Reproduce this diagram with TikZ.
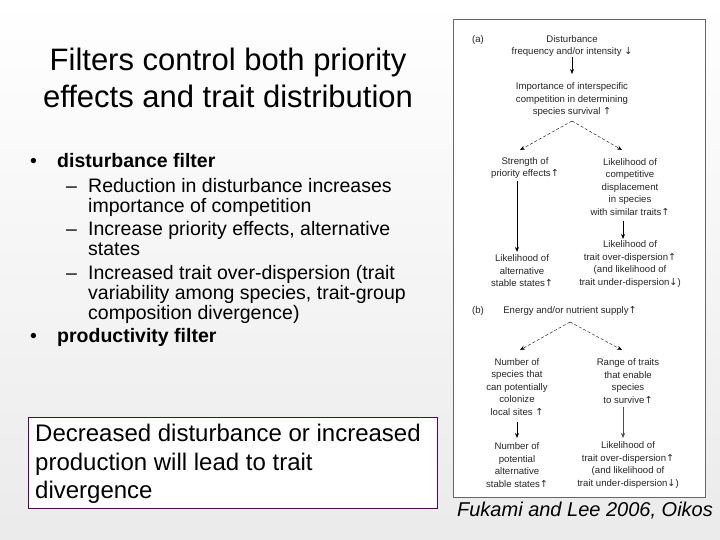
\documentclass[tikz,border=0pt]{standalone}
\usetikzlibrary{arrows.meta}
\usepackage{fontspec}
\setmainfont{Liberation Sans}
\newfontfamily\dv{DejaVu Sans}
\newcommand{\up}{{\dv\char"2191}}
\newcommand{\dn}{{\dv\char"2193}}
\begin{document}
\begin{tikzpicture}[x=1pt,y=-1pt,
  sm/.style={font=\fontsize{9.6}{12.5}\selectfont,align=center,inner sep=1pt,text=black!85},
  arr/.style={-{Stealth[length=5pt,width=4pt]},thick},
  darr/.style={-{Stealth[length=5pt,width=4pt]},densely dashed},
  bl/.style={font=\fontsize{19.5}{20}\selectfont,anchor=base west,inner sep=0pt}]
\shade[top color=white,bottom color=blue!3!black!8] (0,0) rectangle (720,540);
\useasboundingbox (0,0) rectangle (720,540);
% title
\node[font=\fontsize{31}{37}\selectfont,align=center] (title) at (228,78) {Filters control both priority\\effects and trait distribution};
% bullets
\node[bl] (b1) at (30,168) {•};
\node[bl] (t1) at (57,168) {\textbf{disturbance filter}};
\node[bl] (d1) at (66,193) {–};
\node[bl] (s1a) at (88,193) {Reduction in disturbance increases};
\node[bl] (s1b) at (88,212) {importance of competition};
\node[bl] (d2) at (66,236) {–};
\node[bl] (s2a) at (88,236) {Increase priority effects, alternative};
\node[bl] (s2b) at (88,255) {states};
\node[bl] (d3) at (66,279) {–};
\node[bl] (s3a) at (88,279) {Increased trait over-dispersion (trait};
\node[bl] (s3b) at (88,299) {variability among species, trait-group};
\node[bl] (s3c) at (88,319) {composition divergence)};
\node[bl] (b2) at (30,342) {•};
\node[bl] (t2) at (57,342) {\textbf{productivity filter}};
% box
\draw[draw=violet!70!black,fill=white] (28,417) rectangle (437,508);
\node[font=\fontsize{24}{28.5}\selectfont,align=left,anchor=north west,inner sep=0pt] (box) at (35,424) {Decreased disturbance or increased\\production will lead to trait\\divergence};
% citation
\node[font=\fontsize{20}{20}\selectfont\itshape] (cite) at (585,511) {Fukami and Lee 2006, Oikos};
% panel
\draw[draw=black!60,fill=white,line width=1pt] (453,20) rectangle (705,497);
\node[sm] (la) at (478,40) {(a)};
\node[sm] (a1) at (572,46) {Disturbance\\frequency and/or intensity \dn};
\node[sm] (a2) at (572,100) {Importance of interspecific\\competition in determining\\species survival \up};
\node[sm] (a3) at (525,168) {Strength of\\priority effects\up};
\node[sm] (a4) at (630,187) {Likelihood of\\competitive\\displacement\\in species\\with similar traits\up};
\node[sm] (a5) at (522,271) {Likelihood of\\alternative\\stable states\up};
\node[sm] (a6) at (630,264) {Likelihood of\\trait over-dispersion\up\\(and likelihood of\\trait under-dispersion\dn)};
\draw[arr] (572,57) -- (572,74);
\draw[darr] (572,121) -- (520,150);
\draw[darr] (572,121) -- (622,150);
\draw[arr] (517,181) -- (517,252);
\draw[arr] (623,221) -- (623,239);
\node[sm] (lb) at (478,311) {(b)};
\node[sm] (b1n) at (570,311) {Energy and/or nutrient supply\up};
\node[sm] (b2n) at (517,387) {Number of\\species that\\can potentially\\colonize\\local sites \up};
\node[sm] (b3n) at (628,381) {Range of traits\\that enable\\species\\to survive\up};
\node[sm] (b4n) at (517,465) {Number of\\potential\\alternative\\stable states\up};
\node[sm] (b5n) at (628,465) {Likelihood of\\trait over-dispersion\up\\(and likelihood of\\trait under-dispersion\dn)};
\draw[darr] (570,322) -- (520,350);
\draw[darr] (570,322) -- (622,350);
\draw[arr] (517,422) -- (517,438);
\draw[-{Stealth[length=5pt,width=4pt]},black!70] (623,407) -- (623,438);
\end{tikzpicture}
\end{document}
